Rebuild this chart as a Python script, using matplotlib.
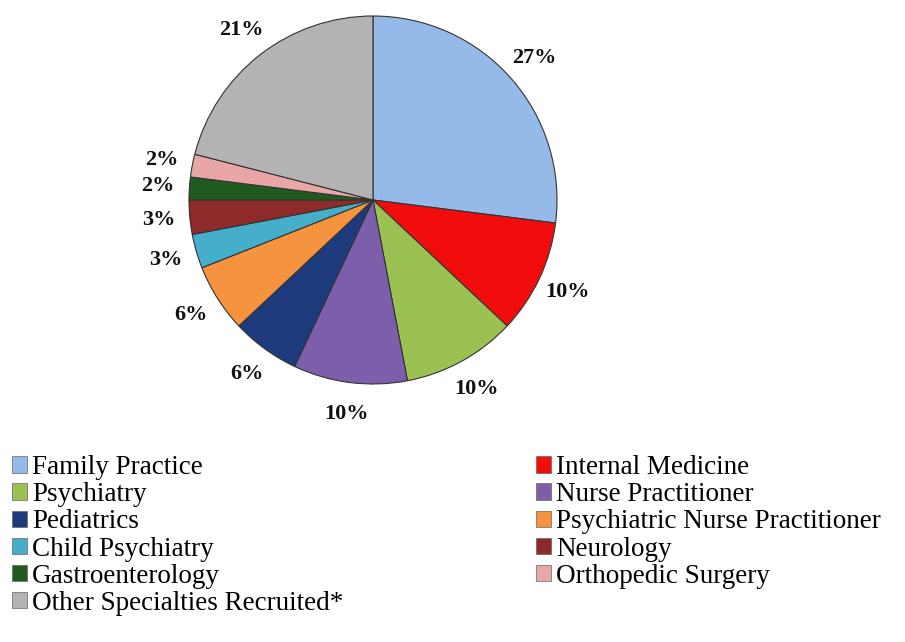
import matplotlib
matplotlib.use("Agg")
import matplotlib.pyplot as plt
from matplotlib.patches import Patch

# specialties, in pie order (clockwise from 12 o'clock)
specialties = ["Family Practice", "Internal Medicine", "Psychiatry",
               "Nurse Practitioner", "Pediatrics",
               "Psychiatric Nurse Practitioner", "Child Psychiatry",
               "Neurology", "Gastroenterology", "Orthopedic Surgery",
               "Other Specialties Recruited*"]
shares = [27, 10, 10, 10, 6, 6, 3, 3, 2, 2, 21]
colors = ["#95B9E8", "#F20D0D", "#9CC153", "#7D5EAA", "#1D3B7C",
          "#F5933F", "#45AECB", "#8E2A2A", "#1F5A1F", "#E8A6A6",
          "#B3B3B3"]

serif = "Liberation Serif"

fig = plt.figure(figsize=(9.05, 6.42), dpi=100)

# pie axes: centre ~ (373, 200) px, radius ~ 184 px
r_px = 184
cx, cy = 373, 200
ax = fig.add_axes([(cx - r_px) / 905, (642 - cy - r_px) / 642,
                   2 * r_px / 905, 2 * r_px / 642])
wedges, _, autotexts = ax.pie(
    shares, colors=colors, startangle=90, counterclock=False,
    autopct="%d%%", pctdistance=1.17, radius=1,
    wedgeprops=dict(edgecolor="#333333", linewidth=0.8),
    textprops=dict(fontfamily=serif, fontsize=16, fontweight="bold",
                   color="#111111"))
ax.set_xlim(-1, 1)
ax.set_ylim(-1, 1)
ax.set_aspect("equal")
ax.axis("off")

handles = [Patch(facecolor=c, edgecolor="#666666", linewidth=0.5)
           for c in colors]

left_idx = [0, 2, 4, 6, 8, 10]
right_idx = [1, 3, 5, 7, 9]

common = dict(frameon=False, prop={"family": serif, "size": 19.5},
              handlelength=0.55, handleheight=0.55, handletextpad=0.2,
              labelspacing=0.08, borderpad=0, borderaxespad=0)

leg1 = fig.legend([handles[i] for i in left_idx],
                  [specialties[i] for i in left_idx],
                  loc="upper left", bbox_to_anchor=(12 / 905, 1 - 455 / 642),
                  **common)
leg2 = fig.legend([handles[i] for i in right_idx],
                  [specialties[i] for i in right_idx],
                  loc="upper left", bbox_to_anchor=(536 / 905, 1 - 455 / 642),
                  **common)

fig.savefig("out.png", dpi=100)
